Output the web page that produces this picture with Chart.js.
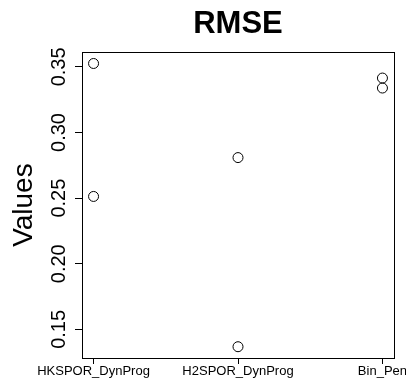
<!DOCTYPE html>
<html>
<head>
<meta charset="utf-8">
<script src="https://cdn.jsdelivr.net/npm/chart.js@4.4.1/dist/chart.umd.min.js"></script>
<style>
  html, body { margin: 0; padding: 0; background: #fff; }
  #wrap { width: 406px; height: 387px; }
</style>
</head>
<body>
<div id="wrap"><canvas id="rmseChart" width="406" height="387"></canvas></div>
<script>
// datos del grafico
const categories = ['HKSPOR_DynProg', 'H2SPOR_DynProg', 'Bin_Pen'];
const hkValues = [0.3526, 0.2513];
const h2Values = [0.2809, 0.1368];
const binValues = [0.3415, 0.3339];
const yTicks = [0.15, 0.20, 0.25, 0.30, 0.35];
const yTickLabels = ['0.15', '0.20', '0.25', '0.30', '0.35'];
const yMin = 0.1282;
const yMax = 0.3612;

const FONT = "'Liberation Sans', Arial, Helvetica, sans-serif";

// puntos: una columna por categoria
const seriesByCat = [hkValues, h2Values, binValues];
const points = [];
seriesByCat.forEach((vals, i) => {
    vals.forEach(v => points.push({ x: i + 1, y: v }));
});

// marco y etiquetas verticales del eje y (estilo R)
const rFrame = {
    id: 'rFrame',
    afterDraw(chart) {
        const ctx = chart.ctx;
        const a = chart.chartArea;
        ctx.save();
        ctx.strokeStyle = '#000';
        ctx.lineWidth = 1;
        ctx.strokeRect(Math.round(a.left) + 0.5, Math.round(a.top) + 0.5,
            Math.round(a.right - a.left), Math.round(a.bottom - a.top));

        const ys = chart.scales.y;
        ctx.fillStyle = '#000';
        ctx.font = '20px ' + FONT;
        ctx.textAlign = 'center';
        ctx.textBaseline = 'alphabetic';
        yTicks.forEach((v, i) => {
            const py = ys.getPixelForValue(v);
            ctx.save();
            ctx.translate(65, py);
            ctx.rotate(-Math.PI / 2);
            ctx.fillText(yTickLabels[i], 0, 0);
            ctx.restore();
        });
        ctx.restore();
    }
};

const rmseChart = new Chart(document.getElementById('rmseChart').getContext('2d'), {
    type: 'scatter',
    data: {
        datasets: [{
            label: 'RMSE',
            data: points,
            pointStyle: 'circle',
            pointRadius: 5,
            pointBorderWidth: 1,
            borderColor: '#000',
            backgroundColor: 'rgba(0,0,0,0)'
        }]
    },
    options: {
        responsive: false,
        animation: false,
        layout: { padding: { left: 0, right: 12, top: 0, bottom: 0 } },
        plugins: {
            legend: { display: false },
            tooltip: { enabled: false },
            title: {
                display: true,
                text: 'RMSE',
                fullSize: false,
                color: '#000',
                font: { family: FONT, size: 31, weight: 'bold' },
                padding: { top: 6, bottom: 9 }
            }
        },
        scales: {
            x: {
                type: 'linear',
                min: 0.92,
                max: 3.08,
                afterBuildTicks: s => { s.ticks = categories.map((c, i) => ({ value: i + 1 })); },
                afterFit: s => { s.height = 29; s.paddingLeft = 0; s.paddingRight = 0; },
                border: { display: false },
                grid: { display: true, drawOnChartArea: false, drawTicks: true, tickLength: 6, color: '#000' },
                ticks: {
                    autoSkip: false,
                    maxRotation: 0,
                    padding: 0,
                    color: '#000',
                    font: { family: FONT, size: 13 },
                    callback: v => categories[Math.round(v) - 1]
                }
            },
            y: {
                min: yMin,
                max: yMax,
                afterBuildTicks: s => { s.ticks = yTicks.map(v => ({ value: v })); },
                afterFit: s => { s.width = 82; },
                border: { display: false },
                grid: { display: true, drawOnChartArea: false, drawTicks: true, tickLength: 7, color: '#000' },
                ticks: { display: false },
                title: {
                    display: true,
                    text: 'Values',
                    color: '#000',
                    font: { family: FONT, size: 28 },
                    padding: { top: 7, bottom: 0 }
                }
            }
        }
    },
    plugins: [rFrame]
});
</script>
</body>
</html>
